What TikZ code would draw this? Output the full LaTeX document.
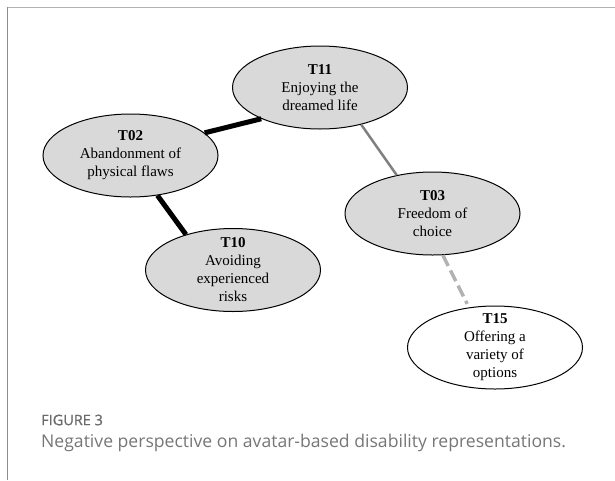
\documentclass[tikz,border=0pt]{standalone}
\usepackage{fontspec}
\setmainfont{Liberation Serif}
\newfontfamily\captionfont{Open Sans}
\newfontfamily\captionbold{Open Sans}[FakeBold=0.8]
\usetikzlibrary{shapes.geometric}

\definecolor{themefill}{RGB}{217,217,217}
\definecolor{linkgray}{RGB}{128,128,128}
\definecolor{linklight}{RGB}{178,178,178}
\definecolor{frametop}{RGB}{178,178,178}
\definecolor{frameleft}{RGB}{140,140,140}
\definecolor{capgray}{RGB}{118,118,118}

\tikzset{
  theme/.style={ellipse, draw=black, line width=1pt, fill=themefill,
    minimum width=175pt, minimum height=83pt, inner sep=0pt},
  themeopen/.style={theme, fill=white},
  themetext/.style={align=center, inner sep=0pt,
    font=\fontsize{15}{18}\selectfont},
  strong/.style={line width=5pt, black},
  medium/.style={line width=2.5pt, linkgray},
  weak/.style={line width=3.5pt, linklight, dash pattern=on 12pt off 5pt},
  captext/.style={anchor=west, inner sep=0pt, text=capgray},
}

\begin{document}
\begin{tikzpicture}[x=1pt,y=1pt,yscale=-1,xscale=1]
\useasboundingbox (0,0) rectangle (615,480);

%Frame (top and left edges only)
\draw [frametop, line width=1.5pt] (7,7.5) -- (615,7.5);
\draw [frameleft, line width=1.5pt] (7.5,7) -- (7.5,480);

%Shape: Ellipse [T11]
\node [theme] (t11) at (320,87.5) {};
\node [themetext] (t11txt) at (t11) {\textbf{T11}\\Enjoying the\\dreamed life};
%Shape: Ellipse [T02]
\node [theme] (t02) at (130.5,155.5) {};
\node [themetext] (t02txt) at (t02) {\textbf{T02}\\Abandonment of\\physical flaws};
%Shape: Ellipse [T03]
\node [theme] (t03) at (432.5,213.5) {};
\node [themetext] (t03txt) at (t03) {\textbf{T03}\\Freedom of\\choice};
%Shape: Ellipse [T10]
\node [theme] (t10) at (233,270) {};
\node [themetext] (t10txt) at (t10) {\textbf{T10}\\Avoiding\\experienced\\risks};
%Shape: Ellipse [T15]
\node [themeopen] (t15) at (495,347.5) {};
\node [themetext] (t15txt) at (t15) {\textbf{T15}\\Offering a\\variety of\\options};

%Links
\draw [strong] (t02.17) -- (t11.208);
\draw [strong] (t02.304) -- (t10.143);
\draw [medium] (t11.318) -- (t03.133);
\draw [weak, shorten >=4pt] (t03.284) -- (t15.123);

% Text Node
\node [captext, text=capgray!90!black, font=\captionbold\fontsize{14.5}{17}\selectfont] (capnum) at (41,420) {FIGURE 3};
% Text Node
\node [captext, font=\captionfont\fontsize{17.6}{20}\selectfont] (capline) at (41,443) {Negative perspective on avatar-based disability representations.};

\end{tikzpicture}
\end{document}
